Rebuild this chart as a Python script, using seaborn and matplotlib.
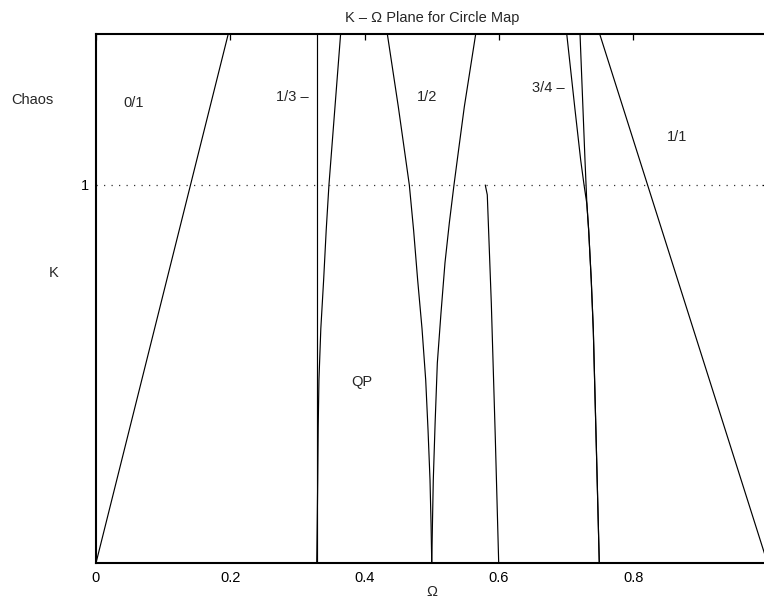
import numpy as np
import pandas as pd
import matplotlib
matplotlib.use("Agg")
import matplotlib.pyplot as plt
import seaborn as sns

# Tongue boundaries in the K-Omega plane (Omega values, K values)
k_01 = [0.0, 1.4]
w_01 = [0.0, 0.197]

k_13_left = [0.0, 1.4]
w_13_left = [0.3287, 0.3287]
k_13_right = [0.0, 0.22, 0.36, 0.484, 0.62, 0.749, 0.88, 1.0, 1.2, 1.4]
w_13_right = [0.3287, 0.3302, 0.3309, 0.332, 0.3348, 0.339, 0.3428, 0.3469, 0.3556, 0.3643]

k_12_left = [0.0, 0.1, 0.22, 0.35, 0.484, 0.62, 0.749, 0.88, 1.0, 1.1, 1.207, 1.4]
w_12_left = [0.5, 0.4990, 0.4974, 0.4945, 0.491, 0.4855, 0.479, 0.4730, 0.4666, 0.4587, 0.4502, 0.4338]
k_12_right = [0.0, 0.1, 0.22, 0.37, 0.529, 0.66, 0.794, 0.9, 1.0, 1.1, 1.207, 1.4]
w_12_right = [0.5, 0.5010, 0.5023, 0.5050, 0.5083, 0.5137, 0.5197, 0.5262, 0.5331, 0.5405, 0.5485, 0.5655]

k_35 = [0.0, 0.334, 0.687, 0.974, 1.0]
w_35 = [0.5997, 0.5946, 0.5887, 0.5827, 0.5797]

k_34_left = [0.0, 0.3, 0.616, 0.75, 0.88, 0.95, 1.0, 1.066, 1.2, 1.4]
w_34_left = [0.7495, 0.7452, 0.7406, 0.7375, 0.7337, 0.7310, 0.7268, 0.7218, 0.7133, 0.7010]
k_34_right = [0.0, 0.3, 0.616, 0.75, 0.88, 0.95, 1.0, 1.066, 1.4]
w_34_right = [0.7495, 0.7452, 0.7406, 0.7375, 0.7337, 0.7310, 0.7298, 0.7282, 0.7208]

k_11 = [0.0, 1.4]
w_11 = [1.0, 0.75]

# Region labels: text, Omega, K
label_text = ["Chaos", "K", "0/1", "1/3 \u2013", "1/2", "3/4 \u2013", "1/1", "QP"]
label_w = [-0.0953, -0.0625, 0.0566, 0.293, 0.4935, 0.673, 0.865, 0.396]
label_k = [1.225, 0.767, 1.217, 1.233, 1.233, 1.257, 1.127, 0.479]

x_ticks = [0, 0.2, 0.4, 0.6, 0.8]
x_ticklabels = ["0", "0.2", "0.4", "0.6", "0.8"]
y_ticks = [1]
y_ticklabels = ["1"]

curves = {
    "0/1": (w_01, k_01),
    "1/3 left": (w_13_left, k_13_left),
    "1/3 right": (w_13_right, k_13_right),
    "1/2 left": (w_12_left, k_12_left),
    "1/2 right": (w_12_right, k_12_right),
    "3/5": (w_35, k_35),
    "3/4 left": (w_34_left, k_34_left),
    "3/4 right": (w_34_right, k_34_right),
    "1/1": (w_11, k_11),
}
frames = []
for name, (w, k) in curves.items():
    frames.append(pd.DataFrame({"omega": w, "K": k, "curve": name}))
df = pd.concat(frames, ignore_index=True)

sns.set_style("white")
plt.rcParams["font.family"] = ["Liberation Sans", "DejaVu Sans"]
FS = 10.5
plt.rcParams["font.size"] = FS

W, H = 764, 601
fig = plt.figure(figsize=(W / 100, H / 100), dpi=100)
ax = fig.add_axes([96 / W, 38 / H, 671.5 / W, 529.2 / H])

sns.lineplot(data=df, x="omega", y="K", units="curve", estimator=None,
             sort=False, color="black", linewidth=0.85, ax=ax, legend=False)

ax.axhline(1.0, color="#333333", linewidth=0.9, linestyle=(0, (1, 5)))

for t, w, k in zip(label_text, label_w, label_k):
    ax.text(w, k, t, ha="center", va="center", fontsize=FS, clip_on=False)

ax.set_xlim(0, 1.0)
ax.set_ylim(0, 1.4)
ax.set_xticks(x_ticks)
ax.set_xticklabels(x_ticklabels)
ax.set_yticks(y_ticks)
ax.set_yticklabels(y_ticklabels)
ax.tick_params(direction="in", length=4.5, width=0.9, top=True, right=True,
               labelsize=FS, colors="black")
ax.tick_params(axis="x", pad=5.5)
ax.tick_params(axis="y", pad=5)
for s in ax.spines.values():
    s.set_linewidth(1.5)
    s.set_color("black")
    s.set_visible(True)

ax.set_xlabel("\u03a9", fontsize=FS, labelpad=0)
ax.set_ylabel("")
ax.set_title("K \u2013 \u03a9 Plane for Circle Map", fontsize=FS, pad=8.5)

fig.savefig("out.png", dpi=100)
